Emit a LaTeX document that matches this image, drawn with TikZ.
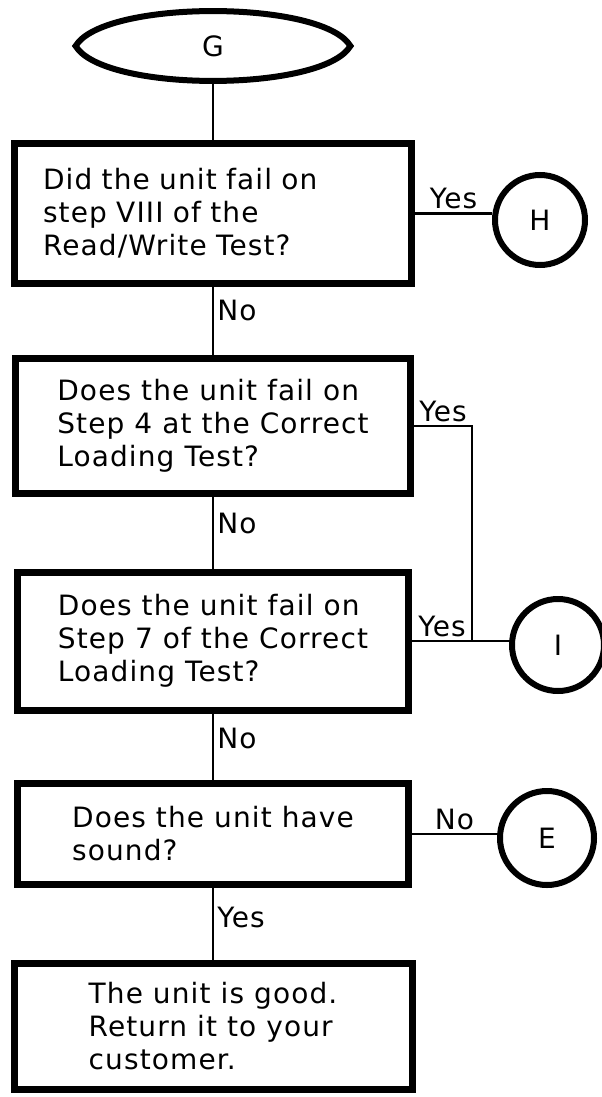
\documentclass[tikz,border=0pt]{standalone}
\usepackage{fontspec}
\setmainfont{DejaVu Sans}[LetterSpace=4]
\usetikzlibrary{shapes.geometric,calc}

\tikzset{
  every node/.style={font=\fontsize{14}{16.5}\selectfont},
  box/.style={draw, rectangle, line width=3.5pt, align=left, inner sep=0pt},
  conn/.style={draw, circle, line width=3pt, inner sep=0pt},
  link/.style={line width=1.3pt},
  lbl/.style={inner sep=1.5pt}
}

\begin{document}
\begin{tikzpicture}[x=1pt,y=1pt]
\useasboundingbox (0,0) rectangle (300.5,-548.5);
\node[ellipse, minimum width=137pt, minimum height=35pt, inner sep=0pt] (G) at (106.5,-23) {G};
\draw[line width=3pt] (G.west) .. controls +(14,23.3) and +(-14,23.3) .. (G.east)
        .. controls +(-14,-23.3) and +(14,-23.3) .. (G.west) -- cycle;
\node[box, minimum width=198.5pt, minimum height=70pt, text width=170pt] (q1) at (106.5,-106.75)
        {Did the unit fail on\\step VIII of the\\Read/Write Test?};
\node[box, minimum width=197.5pt, minimum height=67.5pt] (q2) at (106.5,-213)
        {Does the unit fail on\\Step 4 at the Correct\\Loading Test?};
\node[box, minimum width=195.5pt, minimum height=69pt] (q3) at (106.5,-320.5)
        {Does the unit fail on\\Step 7 of the Correct\\Loading Test?};
\node[box, minimum width=195.5pt, minimum height=50.5pt] (q4) at (106.5,-417)
        {Does the unit have\\sound?};
\node[box, minimum width=199pt, minimum height=63pt] (good) at (106.5,-513.25)
        {The unit is good.\\Return it to your\\customer.};
\node[conn, minimum size=45pt] (H) at (270,-110) {H};
\node[conn, minimum size=46pt] (I) at (279,-322.5) {I};
\node[conn, minimum size=47pt] (E) at (273.5,-419) {E};
\coordinate (join) at ($(q3.east)+(30,0)$);
\draw[link]
        (G) -- (q1)
        (q1) -- node[lbl, right, pos=0.35] {No} (q2)
        (q2) -- node[lbl, right, pos=0.37] {No} (q3)
        (q3) -- node[lbl, right, pos=0.38] {No} (q4)
        (q4) -- node[lbl, right, pos=0.41] {Yes} (good)
        (q1.east) -- node[lbl, above] {Yes} (q1.east -| H.west)
        (q2.east) -| node[lbl, above, pos=0.25] {Yes} (join)
        (q3.east) -- node[lbl, above] {Yes} (join) -- (join -| I.west)
        (q4.east) -- node[lbl, above] {No} (q4.east -| E.west)
        ;
\end{tikzpicture}
\end{document}
